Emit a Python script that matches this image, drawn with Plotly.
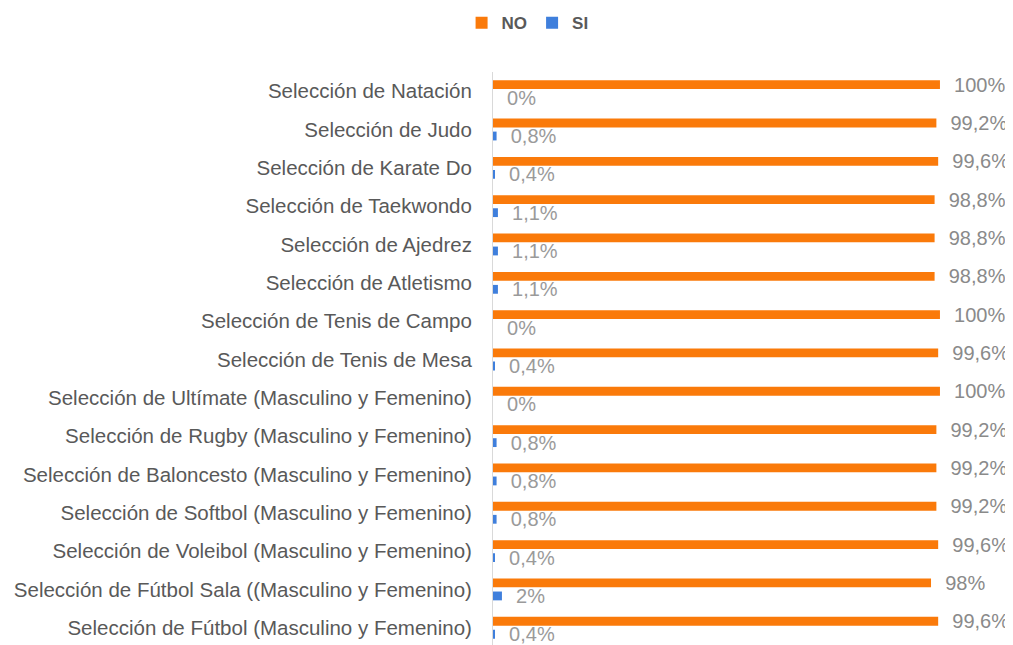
import plotly.graph_objects as go

categories = [
    "Selección de Natación",
    "Selección de Judo",
    "Selección de Karate Do",
    "Selección de Taekwondo",
    "Selección de Ajedrez",
    "Selección de Atletismo",
    "Selección de Tenis de Campo",
    "Selección de Tenis de Mesa",
    "Selección de Ultímate (Masculino y Femenino)",
    "Selección de Rugby (Masculino y Femenino)",
    "Selección de Baloncesto (Masculino y Femenino)",
    "Selección de Softbol (Masculino y Femenino)",
    "Selección de Voleibol (Masculino y Femenino)",
    "Selección de Fútbol Sala ((Masculino y Femenino)",
    "Selección de Fútbol (Masculino y Femenino)",
]
no_values = [100, 99.2, 99.6, 98.8, 98.8, 98.8, 100, 99.6, 100, 99.2, 99.2, 99.2, 99.6, 98, 99.6]
si_values = [0, 0.8, 0.4, 1.1, 1.1, 1.1, 0, 0.4, 0, 0.8, 0.8, 0.8, 0.4, 2, 0.4]


def fmt(v):
    return "\u00a0\u00a0" + f"{v:g}".replace(".", ",") + "%"


FONT = "Liberation Sans, Arial, sans-serif"

fig = go.Figure()
fig.add_trace(go.Bar(
    name="NO", y=categories, x=no_values, orientation="h",
    marker=dict(color="#FA7A0A", line=dict(width=0)),
    width=0.23, offset=-0.285,
    text=[fmt(v) for v in no_values], textposition="outside",
    textfont=dict(family=FONT, size=20, color="#8A8A8A"),
    constraintext="none", cliponaxis=False,
))
fig.add_trace(go.Bar(
    name="SI", y=categories, x=si_values, orientation="h",
    marker=dict(color="#3F7FDC", line=dict(width=0)),
    width=0.23, offset=0.055,
    text=[fmt(v) for v in si_values], textposition="outside",
    textfont=dict(family=FONT, size=20, color="#9A9A9A"),
    constraintext="none", cliponaxis=False,
))

fig.update_layout(
    width=1005, height=637,
    barmode="overlay",
    paper_bgcolor="white", plot_bgcolor="white",
    margin=dict(l=485, r=6, t=64, b=0),
    font=dict(family=FONT, color="#595959"),
    showlegend=True,
    legend=dict(
        orientation="h", xref="container", yref="container",
        x=0.517, y=0.976, xanchor="center", yanchor="middle",
        font=dict(size=17, color="#595959", weight="bold"),
        itemwidth=30, tracegroupgap=0,
    ),
    xaxis=dict(range=[0, 115], visible=False, showgrid=False, zeroline=False),
    yaxis=dict(
        range=[14.45, -0.5], showgrid=False, zeroline=False,
        showline=True, linecolor="#D9D9D9", linewidth=1,
        ticks="", ticklabelstandoff=16,
        tickfont=dict(family=FONT, size=20.5, color="#595959"),
    ),
)

fig.write_html("out.html")
